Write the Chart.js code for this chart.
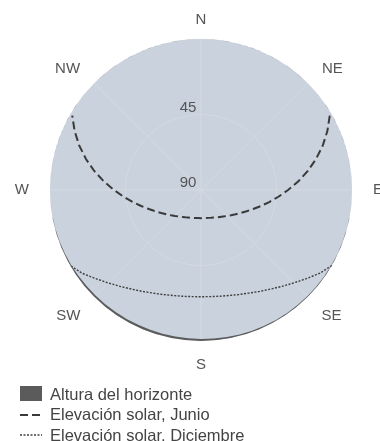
<!DOCTYPE html>
<html>
<head>
<meta charset="utf-8">
<script src="https://cdn.jsdelivr.net/npm/chart.js@4.4.1/dist/chart.umd.min.js"></script>
<style>
    html, body { margin: 0; padding: 0; background: #fff; overflow: hidden; }
    body { width: 380px; height: 441px; position: relative; font-family: "Liberation Sans", Arial, sans-serif; }
    #chartBox { position: absolute; left: 0; top: 0; width: 402px; height: 380px; }
    #legend { position: absolute; left: 20px; top: 384px; margin: 0; padding: 0; list-style: none; }
    #legend li { display: flex; align-items: center; height: 20.5px; font-size: 16.5px; color: #444; white-space: nowrap; }
    #legend canvas { margin-right: 8px; }
</style>
</head>
<body>
<div id="chartBox"><canvas id="horizonChart"></canvas></div>
<ul id="legend"></ul>
<script>
// Azimuth categories (degrees from north, clockwise)
const azimuths = [0, 5, 10, 15, 20, 25, 30, 35, 40, 45, 50, 55,
    60, 65, 70, 75, 80, 85, 90, 95, 100, 105, 110, 115,
    120, 125, 130, 135, 140, 145, 150, 155, 160, 165, 170, 175,
    180, 185, 190, 195, 200, 205, 210, 215, 220, 225, 230, 235,
    240, 245, 250, 255, 260, 265, 270, 275, 280, 285, 290, 295,
    300, 305, 310, 315, 320, 325, 330, 335, 340, 345, 350, 355];
const compassNames = ['N', 'NE', 'E', 'SE', 'S', 'SW', 'W', 'NW'];
const elevationTicks = [45, 90];
const seriesNames = ['Altura del horizonte', 'Elevación solar, Junio', 'Elevación solar, Diciembre'];

// Horizon height (degrees) per azimuth
const horizonHeight = [0, 0, 0, 0, 0, 0, 0, 0, 0, 0, 0, 0,
    0, 0, 0, 0, 0, 0, 0, 0, 0.1, 0.1, 0.2, 0.2,
    0.3, 0.3, 0.4, 0.4, 0.5, 0.5, 0.6, 0.7, 0.8, 0.9, 1.0, 1.1,
    1.2, 1.3, 1.3, 1.3, 1.4, 1.4, 1.3, 1.3, 1.2, 1.1, 1.0, 0.8,
    0.6, 0.5, 0.3, 0.2, 0.1, 0, 0, 0, 0, 0, 0, 0,
    0, 0, 0, 0, 0, 0, 0, 0, 0, 0, 0, 0];

// Sun elevation (degrees) per azimuth, null when the sun is down
const sunJune = [null, null, null, null, null, null, null, null, null, null, null, null,
    1.4, 6.9, 12.8, 19.1, 25.5, 31.9, 38.1, 43.7, 48.7, 53.1, 56.9, 60.0,
    62.6, 64.8, 66.6, 68.1, 69.4, 70.4, 71.2, 71.9, 72.4, 72.8, 73.0, 73.2,
    73.2, 73.2, 73.0, 72.8, 72.4, 71.9, 71.2, 70.4, 69.4, 68.1, 66.6, 64.8,
    62.6, 60.0, 56.9, 53.1, 48.7, 43.7, 38.1, 31.9, 25.5, 19.1, 12.8, 6.9,
    1.4, null, null, null, null, null, null, null, null, null, null, null];

const sunDecember = [null, null, null, null, null, null, null, null, null, null, null, null,
    null, null, null, null, null, null, null, null, null, null, null, null,
    0, 3.5, 7.9, 11.7, 15.0, 17.9, 20.2, 22.2, 23.7, 24.9, 25.7, 26.2,
    26.4, 26.2, 25.7, 24.9, 23.7, 22.2, 20.2, 17.9, 15.0, 11.7, 7.9, 3.5,
    0, null, null, null, null, null, null, null, null, null, null, null,
    null, null, null, null, null, null, null, null, null, null, null, null];

// padding between the outer circle and the compass labels
const labelGaps = [19, 20, 21, 19.5, 18.5, 19.5, 21, 20];

// Paint the sky disk before the grid
const skyDisk = {
    id: 'skyDisk',
    beforeDraw(chart) {
        const r = chart.scales.r;
        const c = chart.ctx;
        c.save();
        c.beginPath();
        c.arc(r.xCenter, r.yCenter, r.drawingArea, 0, Math.PI * 2);
        c.fillStyle = '#c9d2dd';
        c.fill();
        c.restore();
    }
};

// Compass names around the disk and elevation tick labels
const compassLabels = {
    id: 'compassLabels',
    afterDraw(chart) {
        const r = chart.scales.r;
        const c = chart.ctx;
        const capH = 11;
        c.save();
        c.font = '15px "Liberation Sans", Arial, sans-serif';
        c.fillStyle = '#555';
        c.textAlign = 'center';
        c.textBaseline = 'middle';
        compassNames.forEach((name, k) => {
            const i = azimuths.indexOf(k * 45);
            const p = r.getPointPosition(i, r.drawingArea + labelGaps[k]);
            const dx = p.x - r.xCenter;
            const dy = p.y - r.yCenter;
            const w = c.measureText(name).width;
            // labels sit outside their anchor sideways, and below it on the south half
            const x = p.x + (Math.abs(dx) < 1 ? 0 : Math.sign(dx) * w / 2);
            const y = p.y + (dy > 1 ? capH / 2 : 0);
            c.fillText(name, x, y);
        });
        elevationTicks.forEach(v => {
            c.fillText(String(v), r.xCenter - 13, r.yCenter - r.getDistanceFromCenterForValue(v) - 7);
        });
        c.restore();
    }
};

const chart = new Chart(document.getElementById('horizonChart'), {
    type: 'radar',
    data: {
        labels: azimuths,
        datasets: [
            {
                label: seriesNames[0],
                data: horizonHeight,
                fill: { value: 0 },
                backgroundColor: '#5b5b5b',
                borderColor: '#5b5b5b',
                borderWidth: 0,
                pointRadius: 0
            },
            {
                label: seriesNames[1],
                data: sunJune,
                fill: false,
                borderColor: '#3a3a3a',
                borderWidth: 2,
                borderDash: [8, 4],
                pointRadius: 0
            },
            {
                label: seriesNames[2],
                data: sunDecember,
                fill: false,
                borderColor: '#404040',
                borderWidth: 1.4,
                borderDash: [2, 1.5],
                pointRadius: 0
            }
        ]
    },
    options: {
        responsive: true,
        maintainAspectRatio: false,
        animation: false,
        layout: { padding: { top: 39, bottom: 39, left: 0, right: 0 } },
        elements: { line: { tension: 0 } },
        scales: {
            r: {
                min: 0,
                max: 90,
                reverse: true,
                ticks: { stepSize: 45, display: false },
                grid: {
                    circular: true,
                    lineWidth: 1,
                    color: c => (c.tick && c.tick.value === 0) ? 'rgba(0,0,0,0)' : '#d4dae2'
                },
                angleLines: {
                    color: '#d4dae2',
                    lineWidth: c => c.index % 9 === 0 ? 1 : 0
                },
                pointLabels: { display: false }
            }
        },
        plugins: {
            legend: { display: false },
            tooltip: { enabled: false }
        }
    },
    plugins: [skyDisk, compassLabels]
});

// Build legend list below the chart
function buildLegend() {
    const list = document.getElementById('legend');
    list.innerHTML = '';
    chart.data.datasets.forEach(ds => {
        const li = document.createElement('li');
        const swatch = document.createElement('canvas');
        swatch.width = 22;
        swatch.height = 16;
        const s = swatch.getContext('2d');
        if (ds.fill) {
            s.fillStyle = ds.backgroundColor;
            s.fillRect(0, 0, 22, 15);
        } else {
            s.strokeStyle = ds.borderColor;
            s.lineWidth = ds.borderWidth;
            s.setLineDash(ds.borderDash);
            s.beginPath();
            s.moveTo(0, 8);
            s.lineTo(22, 8);
            s.stroke();
        }
        li.appendChild(swatch);
        li.appendChild(document.createTextNode(ds.label));
        list.appendChild(li);
    });
}

buildLegend();
</script>
</body>
</html>
